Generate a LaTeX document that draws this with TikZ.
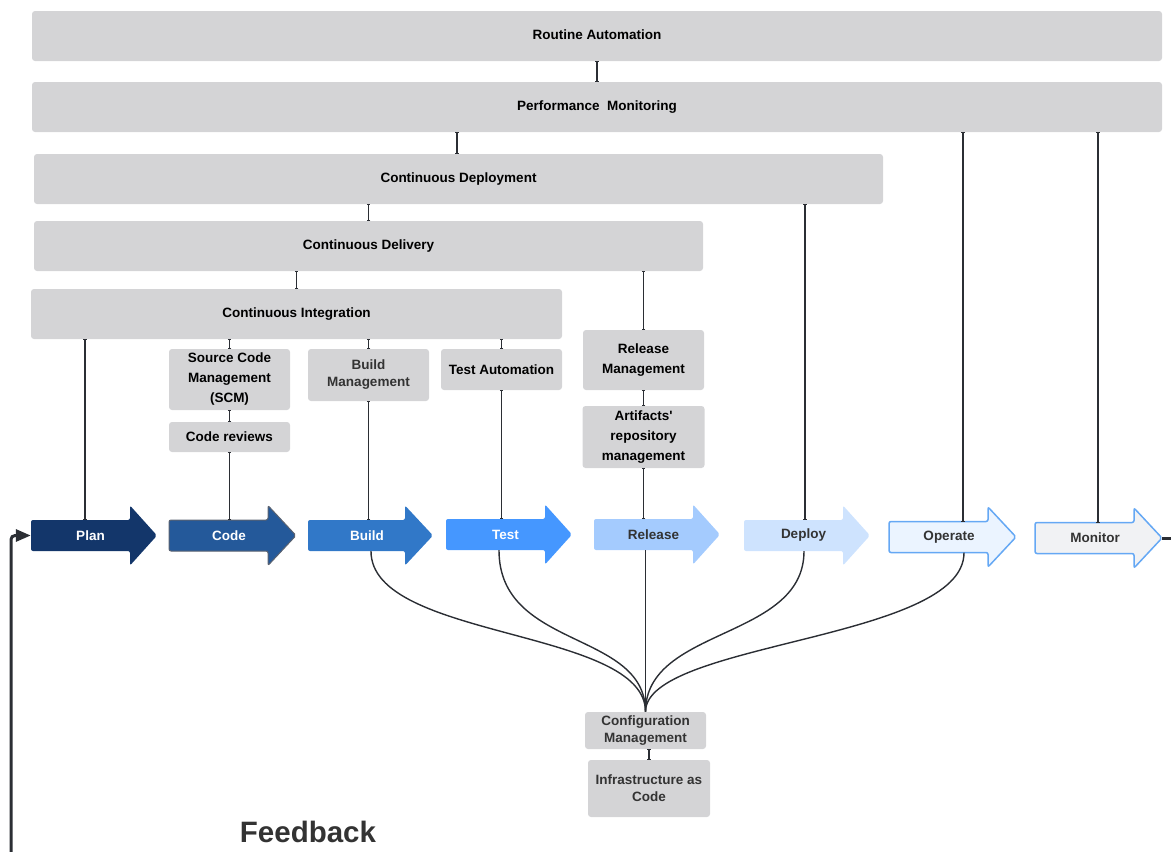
\documentclass[tikz,border=0pt]{standalone}
\usepackage{fontspec}
\setmainfont{Liberation Sans}[Ligatures=TeXOff]
\usetikzlibrary{arrows.meta}

\definecolor{boxgray}{HTML}{D4D4D6}
\definecolor{linec}{HTML}{2B2E34}
\definecolor{darktext}{HTML}{333333}
\definecolor{planfill}{HTML}{13366A}
\definecolor{codefill}{HTML}{24599A}
\definecolor{codeedge}{HTML}{5A6270}
\definecolor{buildfill}{HTML}{3178C8}
\definecolor{testfill}{HTML}{4597FF}
\definecolor{releasefill}{HTML}{A4CBFE}
\definecolor{deployfill}{HTML}{CEE3FE}
\definecolor{operatefill}{HTML}{EBF4FF}
\definecolor{monitorfill}{HTML}{F1F2F4}
\definecolor{lightedge}{HTML}{65A8F4}

\newcommand\lblfont{\bfseries\fontsize{13.5}{20}\selectfont}
\newcommand\lbltight{\bfseries\fontsize{13.5}{17}\selectfont}

% block arrow: style, name, left x, head-base x, tip x, middle y, label
\newcommand\flowarrow[7]{%
  \path[#1] (#3,#6-15.5) -- (#4,#6-15.5) -- (#4,#6-30) -- (#5,#6)
    -- (#4,#6+30) -- (#4,#6+15.5) -- (#3,#6+15.5) -- cycle;
  \node[arrowlbl, minimum width={#5-#3}, minimum height=31] (#2)
    at ({(#3+#5)/2}, #6) {\hspace*{-7pt}#7};
}

\tikzset{
  gbox/.style={fill=boxgray, rounded corners=3pt, inner sep=0pt,
    align=center, font=\lblfont, text=black},
  band/.style={gbox, text depth=3pt},
  gboxsoft/.style={gbox, font=\lbltight, text=darktext},
  arrowlbl/.style={inner sep=0pt, font=\lblfont},
  arrowbody/.style={rounded corners=2pt},
  conn/.style={draw=linec, line width=1.3pt},
  stub/.style={conn, {Bar[width=3.5pt,line width=0.8pt]}-{Bar[width=3.5pt,line width=0.8pt]}},
  curveconn/.style={draw=linec, line width=1.4pt},
  loopline/.style={draw=linec, line width=3pt},
}

\begin{document}
\begin{tikzpicture}[x=1pt, y=-1pt]
\useasboundingbox (0,0) rectangle (1171,852);

% practice bands
\node[band, minimum width=1130, minimum height=50] (ra) at (597,36) {Routine Automation};
\node[band, minimum width=1130, minimum height=50] (pm) at (597,107) {Performance\ \ Monitoring};
\node[band, minimum width=849, minimum height=50] (cdep) at (458.5,179) {Continuous Deployment};
\node[band, minimum width=669, minimum height=50] (cdel) at (368.5,246) {Continuous Delivery};
\node[band, minimum width=531, minimum height=50] (ci) at (296.5,314) {Continuous Integration};

% practices
\node[gbox, minimum width=121, minimum height=61] (scm) at (229.5,379.5) {Source Code\\Management\\(SCM)};
\node[gbox, minimum width=121, minimum height=30] (cr) at (229.5,437) {Code reviews};
\node[gboxsoft, minimum width=121, minimum height=52] (bm) at (368.5,375) {Build\\Management};
\node[gbox, minimum width=121, minimum height=41] (ta) at (501.5,369.5) {Test Automation};
\node[gbox, minimum width=121, minimum height=60] (relm) at (643.5,360) {Release\\Management};
\node[gbox, minimum width=122, minimum height=62] (art) at (643.5,437) {Artifacts'\\repository\\management};
\node[gboxsoft, minimum width=121, minimum height=37] (cm) at (645.5,730.5) {Configuration\\Management};
\node[gboxsoft, minimum width=122, minimum height=57] (iac) at (649,788.5) {Infrastructure as\\Code};

% pipeline stages
\flowarrow{arrowbody, fill=planfill}{plan}{31}{130}{157}{535.5}{\color{white}Plan}
\flowarrow{arrowbody, fill=codefill, draw=codeedge, line width=1pt}{code}{169}{268}{296}{535.5}{\color{white}Code}
\flowarrow{arrowbody, fill=buildfill}{build}{308}{405}{433}{535.5}{\color{white}Build}
\flowarrow{arrowbody, fill=testfill}{test}{446}{545}{572}{534.5}{\color{white}Test}
\flowarrow{arrowbody, fill=releasefill}{release}{594}{693}{720}{534.5}{\color{darktext}Release}
\flowarrow{arrowbody, fill=deployfill}{deploy}{744}{843}{870}{535.5}{\color{darktext}Deploy}
\flowarrow{arrowbody, fill=operatefill, draw=lightedge, line width=1.5pt}{operate}{889}{988}{1016}{537}{\color{darktext}Operate}
\flowarrow{arrowbody, fill=monitorfill, draw=lightedge, line width=1.5pt}{monitor}{1035}{1134}{1162}{538}{\color{darktext}Monitor}

% column positions of the vertical links
\coordinate (xpm) at (457,0);
\coordinate (xop) at (963,0);
\coordinate (xmo) at (1098,0);
\coordinate (xde) at (805,0);
\coordinate (xpl) at (85,0);
\coordinate (xbu) at (371,0);
\coordinate (xte) at (499,0);
\coordinate (xdc) at (804,0);
\coordinate (xoc) at (964,0);

% links between bands and practices
\draw[stub] (ra.south) -- (pm.north);
\draw[stub] (xpm |- pm.south) -- (xpm |- cdep.north);
\draw[stub] (xop |- pm.south) -- (xop |- operate.north);
\draw[stub] (xmo |- pm.south) -- (xmo |- monitor.north);
\draw[stub] (cdep.south -| cdel.north) -- (cdel.north);
\draw[stub] (xde |- cdep.south) -- (xde |- deploy.north);
\draw[stub] (cdel.south -| ci.north) -- (ci.north);
\draw[stub] (cdel.south -| relm.north) -- (relm.north);
\draw[stub] (relm.south) -- (relm.south |- art.north);
\draw[stub] (art.south) -- (art.south |- release.north);
\draw[stub] (xpl |- ci.south) -- (xpl |- plan.north);
\draw[stub] (ci.south -| scm.north) -- (scm.north);
\draw[stub] (scm.south) -- (cr.north);
\draw[stub] (cr.south) -- (cr.south |- code.north);
\draw[stub] (ci.south -| bm.north) -- (bm.north);
\draw[stub] (bm.south) -- (bm.south |- build.north);
\draw[stub] (ci.south -| ta.north) -- (ta.north);
\draw[stub] (ta.south) -- (ta.south |- test.north);
\draw[stub] (iac.north |- cm.south) -- (iac.north);

% stages feeding configuration management
\draw[curveconn] (xbu |- build.south) .. controls +(0,89) and +(0,-84) .. (cm.north);
\draw[curveconn] (xte |- test.south) .. controls +(0,100) and +(0,-82) .. (cm.north);
\draw[curveconn] (cm.north |- release.south) -- (cm.north);
\draw[curveconn] (xdc |- deploy.south) .. controls +(0,89) and +(0,-85) .. (cm.north);
\draw[curveconn] (xoc |- operate.south) .. controls +(0,88) and +(0,-70) .. (cm.north);

% feedback loop
\coordinate (loopin) at (11,870);
\coordinate (loopout) at (1190,538);
\draw[loopline] (monitor.east) -- (loopout);
\draw[loopline, rounded corners=4pt, -{Triangle[length=15pt,width=12pt]}] (loopin) |- (plan.west);
\node[font=\bfseries\fontsize{29.5}{32}\selectfont, text=darktext, inner sep=0pt] (fb) at (308,832) {Feedback};
\end{tikzpicture}
\end{document}
